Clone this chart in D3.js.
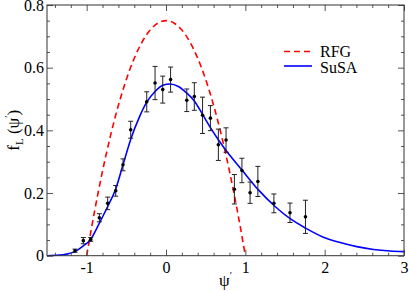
<!DOCTYPE html>
<html>
<head>
<meta charset="utf-8">
<script src="https://cdn.jsdelivr.net/npm/d3@7"></script>
<style>
  body { margin: 0; background: #fff; }
  svg text { font-family: "Liberation Serif", "Times New Roman", "DejaVu Serif", serif; fill: #000; }
</style>
</head>
<body>
<div id="chart"></div>
<script>
// tick values
var xMajor = [-1, 0, 1, 2, 3];
var xMinor = [-1.4, -1.2, -0.8, -0.6, -0.4, -0.2, 0.2, 0.4, 0.6, 0.8, 1.2, 1.4, 1.6, 1.8, 2.2, 2.4, 2.6, 2.8];
var yMajor = [0, 0.2, 0.4, 0.6, 0.8];
var yMinor = [0.05, 0.1, 0.15, 0.25, 0.3, 0.35, 0.45, 0.5, 0.55, 0.65, 0.7, 0.75];

// measured points with error bars
var dataPsi = [-1.147, -1.042, -0.949, -0.84, -0.735, -0.634, -0.542, -0.445, -0.243, -0.138, -0.041, 0.058,
               0.262, 0.357, 0.461, 0.56, 0.66, 0.757, 0.862, 0.957, 1.06, 1.158, 1.36, 1.563, 1.758];
var dataF   = [0.016, 0.048, 0.052, 0.121, 0.167, 0.207, 0.29, 0.402, 0.491, 0.551, 0.530, 0.562,
               0.496, 0.508, 0.448, 0.439, 0.354, 0.369, 0.212, 0.272, 0.201, 0.237, 0.167, 0.137, 0.124];
var dataErr = [0.005, 0.01, 0.006, 0.013, 0.02, 0.017, 0.019, 0.027, 0.032, 0.053, 0.043, 0.04,
               0.036, 0.044, 0.058, 0.04, 0.05, 0.039, 0.047, 0.039, 0.034, 0.048, 0.03, 0.031, 0.053];

// RFG curve (red dashed)
var rfgPsi = [-1, -0.9, -0.8, -0.7, -0.6, -0.5, -0.4, -0.3, -0.2, -0.1, 0, 0.1, 0.2, 0.3, 0.4, 0.5, 0.6, 0.7, 0.8, 0.9, 1];
var rfgF   = [0, 0.1425, 0.27, 0.3825, 0.48, 0.5625, 0.63, 0.6825, 0.72, 0.7425, 0.75,
              0.7425, 0.72, 0.6825, 0.63, 0.5625, 0.48, 0.3825, 0.27, 0.1425, 0];

// SuSA curve (blue solid)
var susaPsi = [-1.5, -1.35, -1.25, -1.15, -1.05, -0.95, -0.84, -0.735, -0.634, -0.542, -0.44, -0.34, -0.243,
               -0.138, -0.04, 0.05, 0.156, 0.262, 0.357, 0.463, 0.564, 0.66, 0.757, 0.85, 0.955, 1.165,
               1.375, 1.565, 1.76, 1.984, 2.195, 2.405, 2.615, 2.826, 3];
var susaF   = [0, 0.002, 0.005, 0.013, 0.03, 0.052, 0.104, 0.157, 0.213, 0.29, 0.375, 0.44, 0.49,
               0.524, 0.544, 0.548, 0.54, 0.519, 0.494, 0.45, 0.407, 0.37, 0.336, 0.306, 0.274, 0.21,
               0.157, 0.118, 0.088, 0.059, 0.042, 0.029, 0.02, 0.015, 0.013];

var legendNames = ["RFG", "SuSA"];

var w = 409, h = 291;
var pLeft = 47, pRight = 404, pTop = 5, pBottom = 255.7;

var svg = d3.select("#chart").append("svg")
    .attr("width", w)
    .attr("height", h);

var x = d3.scaleLinear().domain([-1.5, 3]).range([pLeft, pRight]);
var y = d3.scaleLinear().domain([0, 0.8]).range([pBottom, pTop]);

var line = d3.line()
    .x(function(d) { return x(d[0]); })
    .y(function(d) { return y(d[1]); });

// curves
svg.append("path")
    .datum(d3.zip(rfgPsi, rfgF))
    .attr("d", line.curve(d3.curveMonotoneX))
    .attr("fill", "none")
    .attr("stroke", "#f00")
    .attr("stroke-width", 1.6)
    .attr("stroke-dasharray", "6,4");

svg.append("path")
    .datum(d3.zip(susaPsi, susaF))
    .attr("d", line.curve(d3.curveMonotoneX))
    .attr("fill", "none")
    .attr("stroke", "#00f")
    .attr("stroke-width", 1.6);

// error bars and points
var pts = d3.zip(dataPsi, dataF, dataErr);
var bars = svg.append("g").attr("stroke", "#222").attr("stroke-width", 1);
bars.selectAll("line.v").data(pts).enter().append("line")
    .attr("class", "v")
    .attr("x1", function(d) { return x(d[0]); })
    .attr("x2", function(d) { return x(d[0]); })
    .attr("y1", function(d) { return y(d[1] - d[2]); })
    .attr("y2", function(d) { return y(d[1] + d[2]); });
[1, -1].forEach(function(s) {
    bars.selectAll("line.c" + (s + 1)).data(pts).enter().append("line")
        .attr("class", "c" + (s + 1))
        .attr("x1", function(d) { return x(d[0]) - 2.5; })
        .attr("x2", function(d) { return x(d[0]) + 2.5; })
        .attr("y1", function(d) { return y(d[1] + s * d[2]); })
        .attr("y2", function(d) { return y(d[1] + s * d[2]); });
});
svg.selectAll("circle").data(pts).enter().append("circle")
    .attr("cx", function(d) { return x(d[0]); })
    .attr("cy", function(d) { return y(d[1]); })
    .attr("r", 1.8)
    .attr("fill", "#000");

// axes, ticks pointing inward on all four sides
function ticks(axis, vals, size, labels) {
    return axis.tickValues(vals).tickSizeInner(-size).tickSizeOuter(0)
        .tickFormat(labels ? function(d) { return String(d); } : "");
}
function drawAxis(axis, tx, ty) {
    var g = svg.append("g").attr("transform", "translate(" + tx + "," + ty + ")").call(axis);
    g.select(".domain").remove();
    g.selectAll("line").attr("stroke", "#555");
    g.selectAll("text").attr("font-family", null).attr("font-size", 16).attr("fill", "#000");
    return g;
}
drawAxis(ticks(d3.axisBottom(x), xMajor, 6, true).tickPadding(6), 0, pBottom);
drawAxis(ticks(d3.axisBottom(x), xMinor, 3, false), 0, pBottom);
drawAxis(ticks(d3.axisTop(x), xMajor, 6, false), 0, pTop);
drawAxis(ticks(d3.axisTop(x), xMinor, 3, false), 0, pTop);
drawAxis(ticks(d3.axisLeft(y), yMajor, 6, true).tickPadding(3), pLeft, 0);
drawAxis(ticks(d3.axisLeft(y), yMinor, 3, false), pLeft, 0);
drawAxis(ticks(d3.axisRight(y), yMajor, 6, false), pRight, 0);
drawAxis(ticks(d3.axisRight(y), yMinor, 3, false), pRight, 0);

svg.append("rect")
    .attr("x", pLeft).attr("y", pTop)
    .attr("width", pRight - pLeft).attr("height", pBottom - pTop)
    .attr("fill", "none").attr("stroke", "#333").attr("stroke-width", 1);

// axis titles
var xt = svg.append("text")
    .attr("x", (pLeft + pRight) / 2).attr("y", 286)
    .attr("text-anchor", "middle").attr("font-size", 17);
xt.append("tspan").text("ψ");
xt.append("tspan").attr("font-size", 10).attr("dy", -7).text("′");

var yt = svg.append("text")
    .attr("transform", "translate(19," + ((pTop + pBottom) / 2) + ") rotate(-90)")
    .attr("text-anchor", "middle").attr("font-size", 17);
yt.append("tspan").text("f");
yt.append("tspan").attr("font-size", 11).attr("dy", 4).text("L");
yt.append("tspan").attr("dy", -4).text(" (ψ");
yt.append("tspan").attr("font-size", 10).attr("dy", -7).text("′");
yt.append("tspan").attr("dy", 7).text(")");

// legend
var leg = svg.append("g");
leg.append("line").attr("x1", 284).attr("x2", 312).attr("y1", 51.5).attr("y2", 51.5)
    .attr("stroke", "#f00").attr("stroke-width", 1.6).attr("stroke-dasharray", "6,4");
leg.append("line").attr("x1", 284).attr("x2", 312).attr("y1", 66).attr("y2", 66)
    .attr("stroke", "#00f").attr("stroke-width", 1.6);
leg.selectAll("text").data(legendNames).enter().append("text")
    .attr("x", 320)
    .attr("y", function(d, i) { return 56.5 + i * 16; })
    .attr("font-size", 16)
    .text(function(d) { return d; });
</script>
</body>
</html>
